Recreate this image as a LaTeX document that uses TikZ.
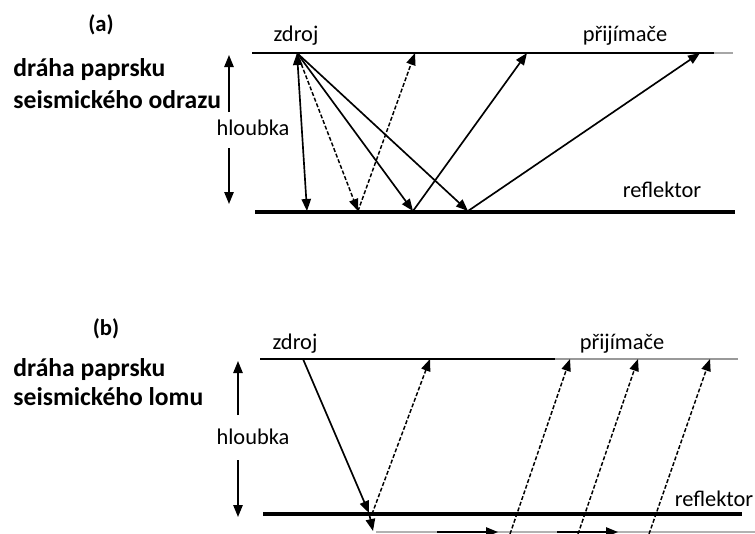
\documentclass[tikz,border=0pt]{standalone}
\usepackage{fontspec}
\setmainfont{Carlito}
\usetikzlibrary{arrows.meta}

\tikzset{every picture/.style={line width=0.75pt}}
\tikzset{
  >={Triangle[length=9pt,width=7pt]},
  ray/.style={line width=1.25pt},
  raydash/.style={line width=1.1pt, dash pattern=on 3pt off 1.5pt},
  surface/.style={line width=1.3pt},
  reflector/.style={line width=3.4pt},
  depth/.style={line width=1.25pt},
  lbl/.style={font=\fontsize{16.8}{20}\selectfont, inner sep=0pt},
  title/.style={font=\bfseries\fontsize{19.2}{23.5}\selectfont, align=left, anchor=west, inner sep=0pt},
  panel/.style={font=\bfseries\fontsize{17}{20}\selectfont, inner sep=0pt}
}

\begin{document}
\begin{tikzpicture}[x=0.75pt,y=0.75pt,yscale=-1,xscale=1]
	\useasboundingbox (0,0) rectangle (755,533);
	\clip (0,0) rectangle (755,533);

	%%%%%%%%%% (a) reflection
	% Text Node
	\node[panel] (panA) at (101,25) {(a)};
	\node[title, font=\bfseries\fontsize{19.2}{24}\selectfont] (titA) at (13,84) {dráha paprsku\\seismického odrazu};
	\node[lbl] (zdrojA) at (296,36) {zdroj};
	\node[lbl] (prijA) at (625,36) {přijímače};
	\node[lbl] (reflA) at (662,190) {reflektor};
	\node[lbl] (hlA) at (253,128) {hloubka};

	% Points
	\coordinate (srcA) at (297,53);
	\coordinate (hitA1) at (307,211);
	\coordinate (hitA2) at (358,211);
	\coordinate (hitA3) at (413,211);
	\coordinate (hitA4) at (468,211);
	\coordinate (recA1) at (415,53);
	\coordinate (recA2) at (527,53);
	\coordinate (recA3) at (700,53);

	%Straight Lines: surface and reflector
	\draw[surface] (252,53) -- (714,53);
	\draw[surface, black!35] (714,53) -- (733,53);
	\draw[reflector] (255,212) -- (735,212);

	%Straight Lines: depth
	\draw[depth,->] (229,112) -- (229,55);
	\draw[depth,->] (229,148) -- (229,204);

	%Straight Lines: rays
	\draw[ray,<->] (srcA) -- (hitA1);
	\draw[raydash,->] (srcA) -- (hitA2);
	\draw[raydash,->] (hitA2) -- (recA1);
	\draw[ray,->] (srcA) -- (hitA3);
	\draw[ray,->] (hitA3) -- (recA2);
	\draw[ray,->] (srcA) -- (hitA4);
	\draw[ray,->] (hitA4) -- (recA3);

	%%%%%%%%%% (b) refraction
	% Text Node
	\node[panel] (panB) at (106,329) {(b)};
	\node[title, font=\bfseries\fontsize{19.2}{22}\selectfont] (titB) at (13,382) {dráha paprsku\\seismického lomu};
	\node[lbl] (zdrojB) at (295,344) {zdroj};
	\node[lbl] (prijB) at (622,344) {přijímače};
	\node[lbl] (reflB) at (714,499) {reflektor};
	\node[lbl] (hlB) at (253,437) {hloubka};

	% Points
	\coordinate (srcB) at (303,359);
	\coordinate (hitB) at (369,513);
	\coordinate (botB) at (373,531);
	\coordinate (upB1) at (372,514);
	\coordinate (upB2) at (510,534);
	\coordinate (upB3) at (578,534);
	\coordinate (upB4) at (649,534);
	\coordinate (recB1) at (430,359);
	\coordinate (recB2) at (570,359);
	\coordinate (recB3) at (638,359);
	\coordinate (recB4) at (710,359);

	%Straight Lines: surface, reflector, refractor
	\draw[surface] (260,359) -- (555,359);
	\draw[surface, black!40] (555,359) -- (738,359);
	\draw[reflector] (263,514) -- (742,514);
	\draw[surface, black!30] (376,532) -- (755,532);
	\draw[ray,->] (437,532) -- (498,532);
	\draw[ray,->] (557,532) -- (618,532);

	%Straight Lines: depth
	\draw[depth,->] (238,415) -- (238,361);
	\draw[depth,->] (238,460) -- (238,517);

	%Straight Lines: rays
	\draw[ray,->] (srcB) -- (hitB);
	\draw[ray,->] (hitB) -- (botB);
	\draw[raydash,->] (upB1) -- (recB1);
	\draw[raydash,->] (upB2) -- (recB2);
	\draw[raydash,->] (upB3) -- (recB3);
	\draw[raydash,->] (upB4) -- (recB4);

\end{tikzpicture}
\end{document}
